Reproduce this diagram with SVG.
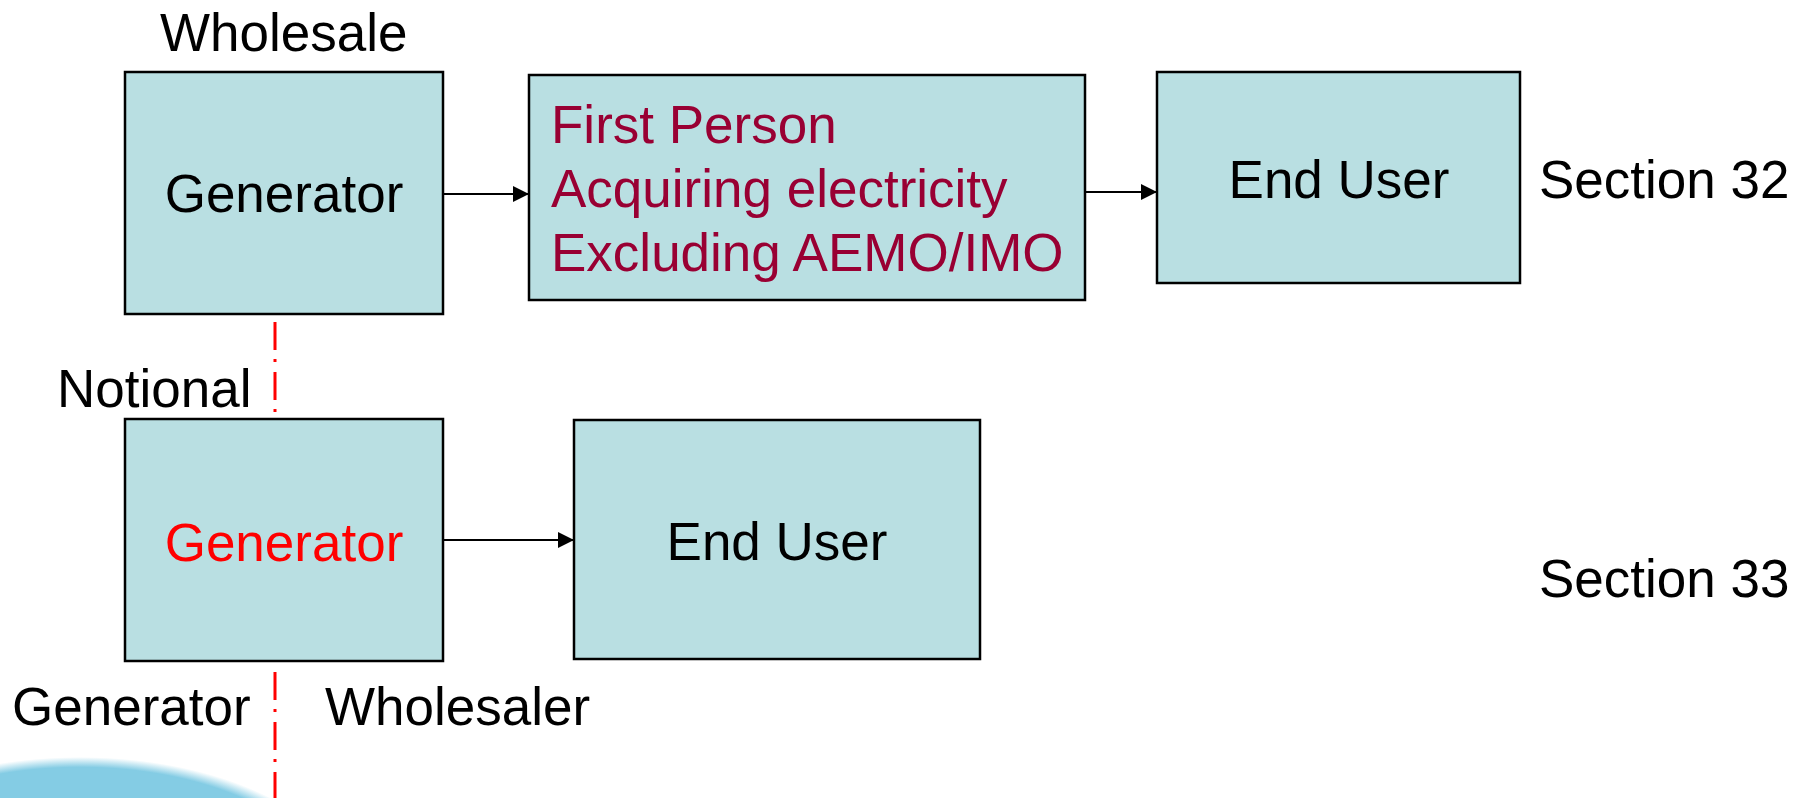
<svg xmlns="http://www.w3.org/2000/svg" width="1803" height="798" viewBox="0 0 1803 798">
  <style>
    .box { fill: #B9DFE2; stroke: #000; stroke-width: 2.5; }
    .t { font-family: "Liberation Sans", Arial, sans-serif; font-size: 53px; fill: #000; }
    .mid { text-anchor: middle; }
    .crim { fill: #990033; }
    .red { fill: #FF0000; }
    .conn { stroke: #000; stroke-width: 2; fill: none; }
    .divider { stroke: #FF0000; stroke-width: 3; stroke-dasharray: 28 9 3 10; fill: none; }
  </style>
  <defs>
    <marker id="arrow" markerUnits="userSpaceOnUse" markerWidth="18" markerHeight="16" refX="16" refY="8" orient="auto">
      <path d="M0,0 L16,8 L0,16 Z" fill="#000"/>
    </marker>
    <radialGradient id="glow" cx="0.5" cy="0.5" r="0.5">
      <stop offset="0.93" stop-color="#84CCE4"/>
      <stop offset="1" stop-color="#84CCE4" stop-opacity="0"/>
    </radialGradient>
  </defs>
  <rect width="1803" height="798" fill="#FFFFFF"/>

  <g id="decoration">
    <ellipse cx="80" cy="903" rx="275" ry="146" fill="url(#glow)"/>
  </g>

  <g id="divider">
    <line class="divider" x1="275" y1="322" x2="275" y2="798"/>
  </g>

  <g id="connectors">
    <line class="conn" x1="443" y1="194" x2="529" y2="194" marker-end="url(#arrow)"/>
    <line class="conn" x1="1085" y1="192" x2="1157" y2="192" marker-end="url(#arrow)"/>
    <line class="conn" x1="443" y1="540" x2="574" y2="540" marker-end="url(#arrow)"/>
  </g>

  <g id="node-generator-top">
    <rect class="box" x="125" y="72" width="318" height="242"/>
    <text class="t mid" x="284" y="212">Generator</text>
  </g>

  <g id="node-first-person">
    <rect class="box" x="529" y="75" width="556" height="225"/>
    <text class="t crim" x="551" y="143">First Person</text>
    <text class="t crim" x="551" y="207">Acquiring electricity</text>
    <text class="t crim" x="551" y="271">Excluding AEMO/IMO</text>
  </g>

  <g id="node-end-user-top">
    <rect class="box" x="1157" y="72" width="363" height="211"/>
    <text class="t mid" x="1339" y="198">End User</text>
  </g>

  <g id="node-generator-bottom">
    <rect class="box" x="125" y="419" width="318" height="242"/>
    <text class="t mid red" x="284" y="561">Generator</text>
  </g>

  <g id="node-end-user-bottom">
    <rect class="box" x="574" y="420" width="406" height="239"/>
    <text class="t mid" x="777" y="560">End User</text>
  </g>

  <g id="labels">
    <text class="t" x="160" y="51">Wholesale</text>
    <text class="t" x="1539" y="198">Section 32</text>
    <text class="t" x="57" y="407">Notional</text>
    <text class="t" x="1539" y="597">Section 33</text>
    <text class="t" x="12" y="725">Generator</text>
    <text class="t" x="325" y="725">Wholesaler</text>
  </g>
</svg>
